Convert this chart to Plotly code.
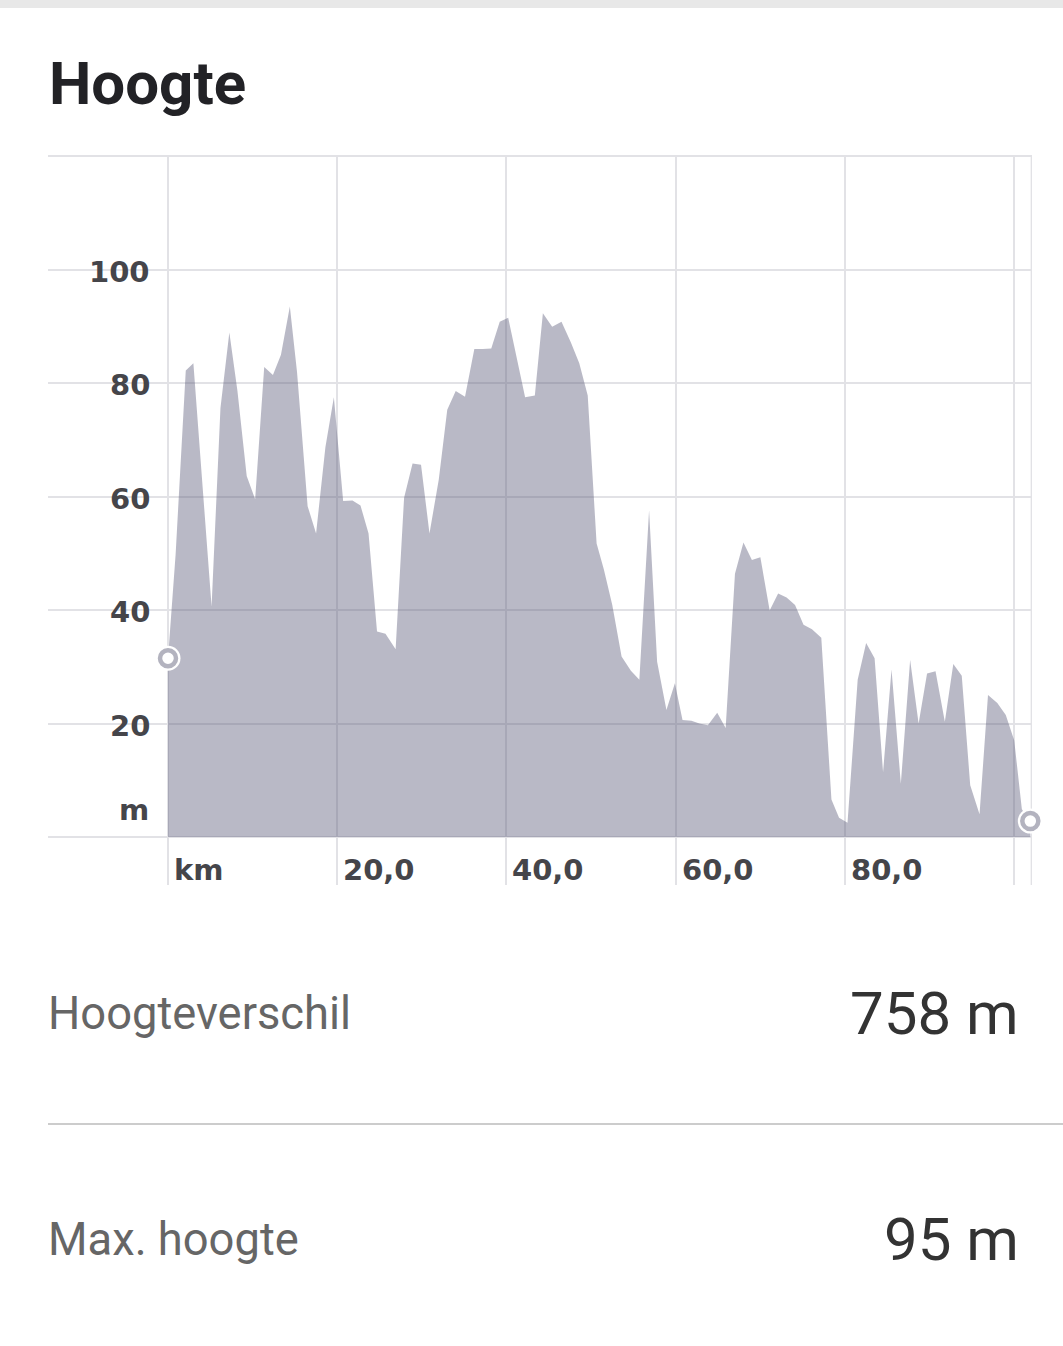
import plotly.graph_objects as go

# ---- data ----
km = [0.0, 0.9, 2.1, 3.0, 4.0, 5.15, 6.2, 7.25, 8.2, 9.3, 10.3, 11.37, 12.4, 13.35, 14.4,
      15.25, 16.5, 17.5, 18.6, 19.6, 20.7, 21.8, 22.75, 23.7, 24.7, 25.7, 26.9, 27.9, 28.9,
      29.9, 30.9, 32.0, 33.0, 34.0, 35.1, 36.2, 37.2, 38.2, 39.2, 40.2, 42.2, 43.35, 44.3,
      45.4, 46.5, 47.6, 48.6, 49.6, 50.65, 51.5, 52.5, 53.6, 54.7, 55.7, 56.85, 57.8, 58.9,
      59.9, 60.8, 61.85, 62.8, 63.8, 64.9, 65.9, 67.0, 68.0, 69.0, 70.0, 71.1, 72.1, 73.1,
      74.1, 75.1, 76.1, 77.2, 78.4, 79.3, 80.3, 81.5, 82.5, 83.5, 84.5, 85.5, 86.6, 87.7,
      88.7, 89.7, 90.7, 91.8, 92.8, 93.8, 94.8, 95.9, 96.9, 98.0, 99.0, 100.0, 100.9, 101.9]
elevation = [31.5, 49.8, 82.2, 83.5, 63.5, 40.6, 75.6, 88.9, 78.7, 63.6, 59.5, 82.8, 81.4, 85.0, 93.5,
             81.9, 58.3, 53.5, 68.7, 77.5, 59.2, 59.3, 58.4, 53.5, 36.2, 35.8, 33.1, 59.8, 65.8,
             65.6, 53.5, 63.0, 75.3, 78.6, 77.6, 86.0, 86.0, 86.1, 90.8, 91.5, 77.5, 77.8, 92.3,
             89.9, 90.8, 87.2, 83.5, 77.8, 51.7, 47.2, 40.9, 31.8, 29.3, 27.7, 57.6, 30.9, 22.4,
             27.1, 20.6, 20.5, 20.0, 19.7, 21.9, 19.2, 46.4, 51.9, 48.8, 49.3, 39.9, 42.9, 42.2,
             40.9, 37.4, 36.6, 35.1, 6.6, 3.4, 2.5, 27.7, 34.2, 31.5, 11.4, 29.5, 9.4, 31.2,
             20.0, 28.8, 29.2, 20.3, 30.5, 28.4, 9.1, 4.0, 25.0, 23.6, 21.5, 17.0, 4.9, 2.8]

x_tick_vals = [0, 20, 40, 60, 80]
x_tick_text = ["km", "20,0", "40,0", "60,0", "80,0"]
y_tick_vals = [20, 40, 60, 80, 100]
y_tick_text = ["20", "40", "60", "80", "100"]
y_unit = "m"

title = "Hoogte"
stat_labels = ["Hoogteverschil", "Max. hoogte"]
stat_values = ["758 m", "95 m"]

W, H = 1063, 1346
L, R, T, B = 48, 1032, 155, 885          # plot area in pixels
X_MIN, X_MAX = -14.18, 102.1
Y_MIN, Y_MAX = -8.46, 120.18
END_X = 102.06

GRID = "rgb(226,226,230)"
TICKFONT = dict(family="DejaVu Sans", size=29, color="#45454a")


def px(pix):
    return (pix - L) / (R - L)


def py(pix):
    return (B - pix) / (B - T)


fig = go.Figure()

fig.add_trace(go.Scatter(
    x=km, y=elevation, mode="lines", fill="tozeroy",
    fillcolor="rgba(86,86,117,0.41)", line=dict(width=0, color="rgba(0,0,0,0)"),
    hoverinfo="skip", showlegend=False))

# endpoints
ends_x = [km[0], km[-1]]
ends_y = [elevation[0], elevation[-1]]
fig.add_trace(go.Scatter(
    x=ends_x, y=ends_y, mode="markers", cliponaxis=False,
    marker=dict(size=25, color="white", line=dict(width=0)),
    hoverinfo="skip", showlegend=False))
fig.add_trace(go.Scatter(
    x=ends_x, y=ends_y, mode="markers", cliponaxis=False,
    marker=dict(size=16, color="white", line=dict(width=4.5, color="#b3b3bf")),
    hoverinfo="skip", showlegend=False))

annotations = []
for v, t in zip(x_tick_vals, x_tick_text):
    annotations.append(dict(x=v, y=0, xref="x", yref="y", text="<b>%s</b>" % t,
                            showarrow=False, xanchor="left", yanchor="middle",
                            xshift=4, yshift=-33, font=TICKFONT))
for v, t in zip(y_tick_vals, y_tick_text):
    annotations.append(dict(x=0, y=v, xref="x", yref="y", text="<b>%s</b>" % t,
                            showarrow=False, xanchor="right", yanchor="middle",
                            xshift=-16, yshift=-2, font=TICKFONT))
annotations.append(dict(x=0, y=0, xref="x", yref="y", text="<b>%s</b>" % y_unit,
                        showarrow=False, xanchor="right", yanchor="middle",
                        xshift=-17, yshift=27, font=TICKFONT))

annotations.append(dict(x=px(47), y=py(83.5), xref="paper", yref="paper",
                        text="<b>%s</b>" % title, showarrow=False,
                        xanchor="left", yanchor="middle",
                        font=dict(family="Roboto", size=60, color="#222226")))
stat_rows = [1013.6, 1239.5]
for lab, val, yy in zip(stat_labels, stat_values, stat_rows):
    annotations.append(dict(x=px(46), y=py(yy), xref="paper", yref="paper", text=lab,
                            showarrow=False, xanchor="left", yanchor="middle",
                            font=dict(family="Roboto", size=45.3, color="#666666")))
    annotations.append(dict(x=px(1021), y=py(yy + 0.3), xref="paper", yref="paper", text=val,
                            showarrow=False, xanchor="right", yanchor="middle",
                            font=dict(family="Roboto", size=60, color="#333333")))

shapes = [
    dict(type="rect", xref="paper", yref="paper", x0=px(0), x1=px(W), y0=py(8), y1=py(0),
         fillcolor="#e8e8e8", line=dict(width=0), layer="below"),
    dict(type="line", xref="x", yref="y", x0=END_X, x1=END_X, y0=Y_MIN, y1=120,
         line=dict(color=GRID, width=2), layer="below"),
    dict(type="line", xref="paper", yref="paper", x0=px(48), x1=px(W), y0=py(1124), y1=py(1124),
         line=dict(color="#cccccc", width=2)),
]

fig.update_layout(
    width=W, height=H,
    margin=dict(l=L, r=W - R, t=T, b=H - B, pad=0),
    paper_bgcolor="white", plot_bgcolor="white",
    xaxis=dict(range=[X_MIN, X_MAX], tick0=0, dtick=20, showgrid=True, gridcolor=GRID,
               gridwidth=2, zeroline=False, showticklabels=False, showline=False,
               ticks="", fixedrange=True),
    yaxis=dict(range=[Y_MIN, Y_MAX], tick0=0, dtick=20, showgrid=True, gridcolor=GRID,
               gridwidth=2, zeroline=False, showticklabels=False, showline=False,
               ticks="", fixedrange=True),
    annotations=annotations, shapes=shapes, showlegend=False,
)

fig.write_html("out.html", config={"displayModeBar": False},
               post_script="document.body.style.margin='0';document.body.style.overflow='hidden';")
